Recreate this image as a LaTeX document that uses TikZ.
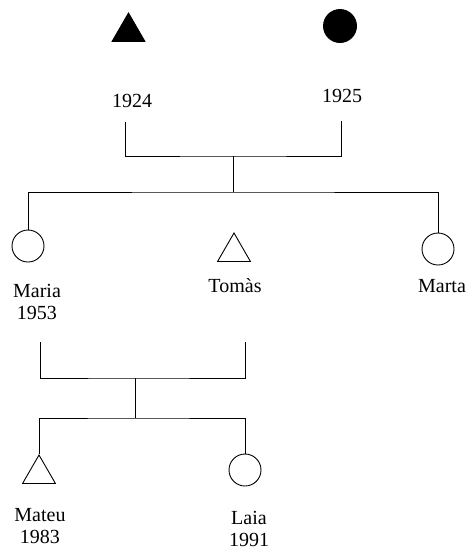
\documentclass[tikz,border=0pt]{standalone}
\usepackage{fontspec}
\setmainfont{Liberation Serif}
\usetikzlibrary{shapes.geometric}
\begin{document}
\begin{tikzpicture}[x = 1pt, y = -1pt, line width = 0.9pt,
		font = \fontsize{20}{22}\selectfont,
		male/.style = {regular polygon, regular polygon sides = 3, draw, minimum size = 38pt, inner sep = 0pt},
		female/.style = {circle, draw, minimum size = 32pt, inner sep = 0pt},
		label text/.style = {align = center, inner sep = 0pt}]
		\useasboundingbox (0, 0) rectangle (470, 552);
		%%%%%%%%%%%%%
		\node[male, fill] (avi) at (128.5, 32) {};
		\node[female, fill, minimum size = 33pt] (avia) at (340, 26) {};
		\node[label text] (avit) at (132, 101) {1924};
		\node[label text] (aviat) at (342, 96) {1925};
		\coordinate (avil) at (125, 122);
		\coordinate (avial) at (341, 121);
		\coordinate (unio) at (233, 156);
		\coordinate (fills) at (233, 192);
		%%%%%%%%%%%%%
		\node[female] (maria) at (28, 246) {};
		\node[male] (tomas) at (234, 252) {};
		\node[female] (marta) at (438, 249) {};
		\node[label text] (mariat) at (37, 302) {Maria\\1953};
		\node[label text] (tomast) at (235, 286) {Tomàs};
		\node[label text] (martat) at (442, 286) {Marta};
		\coordinate (marial) at (40, 342);
		\coordinate (tomasl) at (245, 342);
		\coordinate (unio2) at (135, 378);
		\coordinate (fills2) at (135, 418);
		%%%%%%%%%%%%%
		\node[male] (mateu) at (39, 474) {};
		\node[female] (laia) at (245, 470) {};
		\node[label text] (mateut) at (40, 526) {Mateu\\1983};
		\node[label text] (laiat) at (249, 529) {Laia\\1991};
		%%%%%%%%%%%%%
		\draw (avil) |- (unio) -| (avial);
		\draw (unio) to (fills);
		\draw (maria.north) |- (fills) -| (marta.north);
		\draw (marial) |- (unio2) -| (tomasl);
		\draw (unio2) to (fills2);
		\draw (mateu.north) |- (fills2) -| (laia.north);
		%%%%%%%%%%%%%%
	\end{tikzpicture}
\end{document}
